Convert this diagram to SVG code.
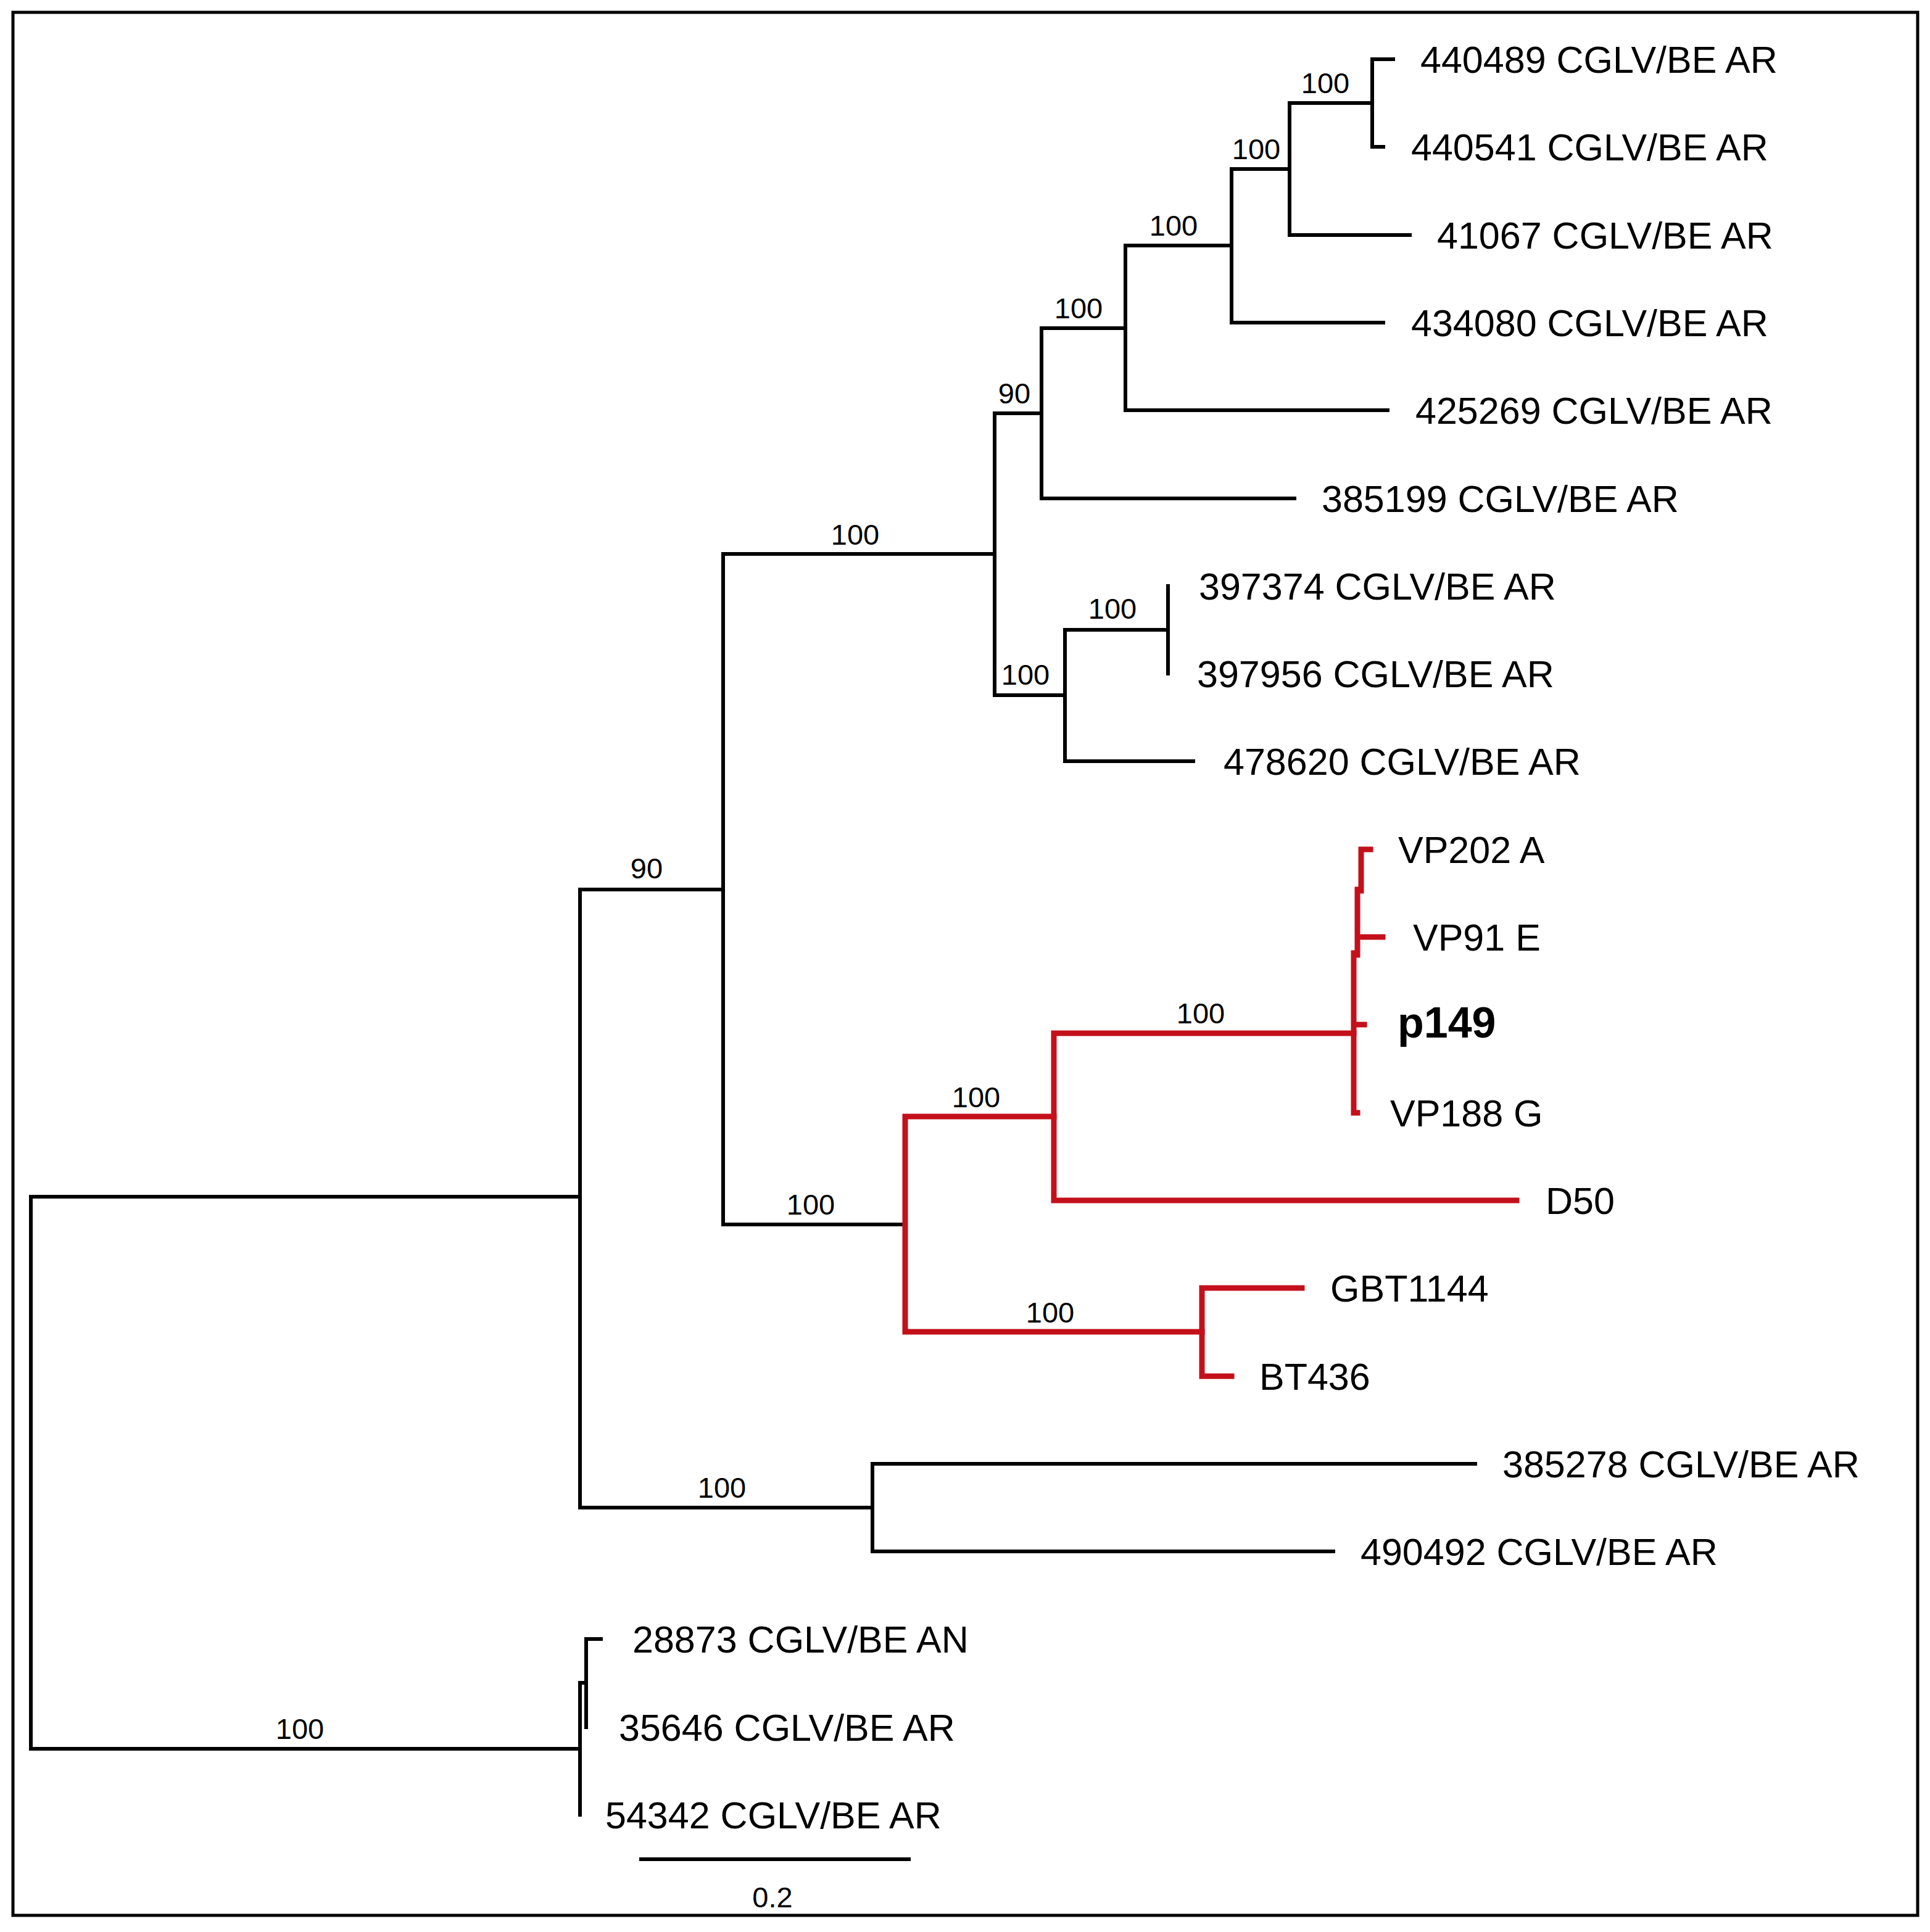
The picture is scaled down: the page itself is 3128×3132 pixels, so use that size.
<svg xmlns="http://www.w3.org/2000/svg" width="3128" height="3132" viewBox="0 0 3128 3132">
<style>
.bk{fill:none;stroke:#000;stroke-width:6;stroke-linecap:square}
.rd{fill:none;stroke:#C4101A;stroke-width:9;stroke-linecap:square}
.lf{font-family:"Liberation Sans",Arial,Helvetica,sans-serif;font-size:61px;fill:#000}
.bs{font-family:"Liberation Sans",Arial,Helvetica,sans-serif;font-size:47px;fill:#000;text-anchor:middle}
.bold{font-weight:bold;font-size:70px}
</style>
<rect x="0" y="0" width="3128" height="3132" fill="#fff"/>
<rect x="21" y="20" width="3087" height="3085" fill="none" stroke="#000" stroke-width="5"/>
<g id="connectors">
<path class="bk" d="M50,1940V2835M50,1940H940M50,2835H940"/>
<path class="bk" d="M940,1442V2444M940,1442H1172M940,2444H1414"/>
<path class="bk" d="M1414,2373V2515M1414,2373H2391M1414,2515H2161"/>
<path class="bk" d="M1172,898V1985M1172,898H1612M1172,1985H1467"/>
<path class="bk" d="M1612,670V1127M1612,670H1688M1612,1127H1726"/>
<path class="bk" d="M1688,532V808M1688,532H1824M1688,808H2098"/>
<path class="bk" d="M1824,398V665M1824,398H1996M1824,665H2249"/>
<path class="bk" d="M1996,274V523M1996,274H2090M1996,523H2242"/>
<path class="bk" d="M2090,167V381M2090,167H2224M2090,381H2285"/>
<path class="bk" d="M2224,96V238M2224,96H2258M2224,238H2242"/>
<path class="bk" d="M1726,1021V1234M1726,1021H1893M1726,1234H1934"/>
<path class="bk" d="M1893,950V1092"/>
<path class="bk" d="M940,2728V2942M940,2728H950M950,2657V2800M950,2657H974"/>
<path class="rd" d="M1467,1810V2159M1467,1810H1708M1467,2159H1948"/>
<path class="rd" d="M1708,1675V1946M1708,1675H2194M1708,1946H2458"/>
<path class="rd" d="M1948,2088V2231M1948,2088H2110M1948,2231H1996"/>
<path class="rd" d="M2194,1545V1804M2194,1661H2211M2194,1804H2200"/>
<path class="rd" d="M2200,1442V1548M2200,1519H2241"/>
<path class="rd" d="M2206,1377V1444M2206,1377H2221"/>
<path class="bk" d="M1039,3014H1473"/>
</g>
<g id="bootstrap">
<text class="bs" x="2148" y="151">100</text>
<text class="bs" x="2036" y="258">100</text>
<text class="bs" x="1902" y="382">100</text>
<text class="bs" x="1748" y="516">100</text>
<text class="bs" x="1644" y="654">90</text>
<text class="bs" x="1386" y="883">100</text>
<text class="bs" x="1803" y="1003">100</text>
<text class="bs" x="1662" y="1110">100</text>
<text class="bs" x="1048" y="1424">90</text>
<text class="bs" x="1946" y="1659">100</text>
<text class="bs" x="1582" y="1795">100</text>
<text class="bs" x="1314" y="1969">100</text>
<text class="bs" x="1702" y="2144">100</text>
<text class="bs" x="1170" y="2428">100</text>
<text class="bs" x="486" y="2819">100</text>
</g>
<g id="n440489"><text class="lf" x="2302" y="118">440489 CGLV/BE AR</text></g>
<g id="n440541"><text class="lf" x="2287" y="260">440541 CGLV/BE AR</text></g>
<g id="n41067"><text class="lf" x="2329" y="403">41067 CGLV/BE AR</text></g>
<g id="n434080"><text class="lf" x="2287" y="545">434080 CGLV/BE AR</text></g>
<g id="n425269"><text class="lf" x="2294" y="687">425269 CGLV/BE AR</text></g>
<g id="n385199"><text class="lf" x="2142" y="830">385199 CGLV/BE AR</text></g>
<g id="n397374"><text class="lf" x="1943" y="972">397374 CGLV/BE AR</text></g>
<g id="n397956"><text class="lf" x="1940" y="1114">397956 CGLV/BE AR</text></g>
<g id="n478620"><text class="lf" x="1983" y="1256">478620 CGLV/BE AR</text></g>
<g id="nVP202A"><text class="lf" x="2266" y="1399">VP202 A</text></g>
<g id="nVP91E"><text class="lf" x="2290" y="1541">VP91 E</text></g>
<g id="np149"><text class="lf bold" x="2265" y="1682">p149</text></g>
<g id="nVP188G"><text class="lf" x="2253" y="1826">VP188 G</text></g>
<g id="nD50"><text class="lf" x="2505" y="1968">D50</text></g>
<g id="nGBT1144"><text class="lf" x="2156" y="2110">GBT1144</text></g>
<g id="nBT436"><text class="lf" x="2041" y="2253">BT436</text></g>
<g id="n385278"><text class="lf" x="2435" y="2395">385278 CGLV/BE AR</text></g>
<g id="n490492"><text class="lf" x="2205" y="2537">490492 CGLV/BE AR</text></g>
<g id="n28873"><text class="lf" x="1025" y="2679">28873 CGLV/BE AN</text></g>
<g id="n35646"><text class="lf" x="1003" y="2822">35646 CGLV/BE AR</text></g>
<g id="n54342"><text class="lf" x="981" y="2964">54342 CGLV/BE AR</text></g>
<g id="scale"><text class="bs" x="1252" y="3092" style="font-size:47px">0.2</text></g>
</svg>
